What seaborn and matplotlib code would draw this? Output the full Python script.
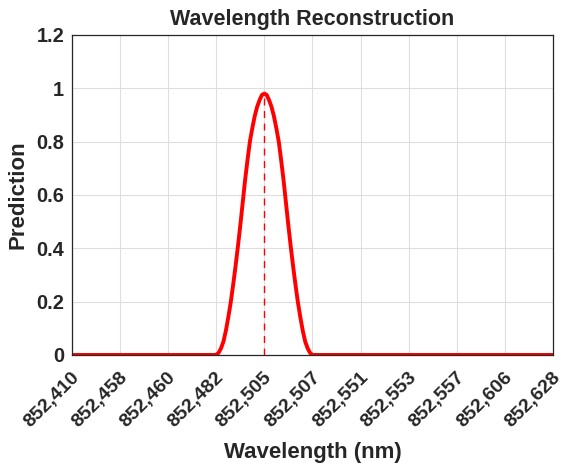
import numpy as np
import pandas as pd
import seaborn as sns
import matplotlib
matplotlib.use("Agg")
import matplotlib.pyplot as plt
import matplotlib.transforms as mtransforms
from matplotlib.ticker import FuncFormatter

sns.set_style("whitegrid")
plt.rcParams["font.family"] = ["Liberation Sans", "DejaVu Sans"]
plt.rcParams["font.weight"] = "bold"

# wavelength labels (evenly spaced categories on the x axis)
wavelengths = ["852,410", "852,458", "852,460", "852,482", "852,505", "852,507",
               "852,551", "852,553", "852,557", "852,606", "852,628"]

# prediction curve (x in category-index units)
curve_x = [0, 1, 2, 3.0, 3.05, 3.1, 3.15, 3.2, 3.25, 3.3, 3.35, 3.4, 3.45, 3.5,
           3.55, 3.6, 3.65, 3.7, 3.75, 3.8, 3.85, 3.9, 3.95, 4.0,
           4.05, 4.1, 4.15, 4.2, 4.25, 4.3, 4.35, 4.4, 4.45, 4.5,
           4.55, 4.6, 4.65, 4.7, 4.75, 4.8, 4.85, 4.9, 4.95, 5.0,
           6, 7, 8, 9, 10]
curve_y = [0, 0, 0, 0.0, 0.008, 0.025, 0.05, 0.09, 0.14, 0.195, 0.26, 0.33, 0.405, 0.485,
           0.57, 0.655, 0.73, 0.80, 0.85, 0.895, 0.93, 0.955, 0.975, 0.98,
           0.975, 0.955, 0.93, 0.895, 0.85, 0.80, 0.73, 0.655, 0.57, 0.485,
           0.405, 0.33, 0.26, 0.195, 0.14, 0.09, 0.05, 0.025, 0.008, 0.0,
           0, 0, 0, 0, 0]

peak_x = 4
peak_y = 0.98

df = pd.DataFrame({"x": curve_x, "y": curve_y})

fig = plt.figure(figsize=(5.66, 4.72), dpi=100)
ax = fig.add_axes([0.127, 0.248, 0.85, 0.678])

sns.lineplot(data=df, x="x", y="y", sort=False, color="#ff0000", linewidth=2.8, ax=ax)
ax.plot([peak_x, peak_x], [0, peak_y], color="#ff0000", linestyle=(0, (5, 4)), linewidth=1.0)

ax.set_xlim(0, 10)
ax.set_ylim(0, 1.2)
ax.set_xticks(range(len(wavelengths)))
ax.set_xticklabels(wavelengths, rotation=45, ha="right", va="center",
                   rotation_mode="anchor", fontsize=14, fontweight="bold")
ax.set_yticks(np.arange(0, 1.21, 0.2))
ax.yaxis.set_major_formatter(FuncFormatter(lambda v, p: f"{v:g}"))
ax.tick_params(axis="y", labelsize=14.3)
ax.tick_params(axis="both", direction="in", length=3, color="#262626")
ax.tick_params(axis="y", pad=5.5)
ax.tick_params(axis="x", pad=10)

# nudge the rotated labels right/down like the reference
shift = mtransforms.ScaledTranslation(0.05, -0.06, fig.dpi_scale_trans)
for lab in ax.get_xticklabels():
    lab.set_transform(lab.get_transform() + shift)

ax.grid(True, color="#dedede", linewidth=0.8)
for s in ax.spines.values():
    s.set_color("#262626")
    s.set_linewidth(0.9)

ax.set_title("Wavelength Reconstruction", fontsize=15.5, fontweight="bold", pad=7)
ax.set_xlabel("Wavelength (nm)", fontsize=16, fontweight="bold", color="#262626", labelpad=8)
ax.set_ylabel("Prediction", fontsize=16, fontweight="bold", color="#262626", labelpad=6)

fig.savefig("out.png", dpi=100)
